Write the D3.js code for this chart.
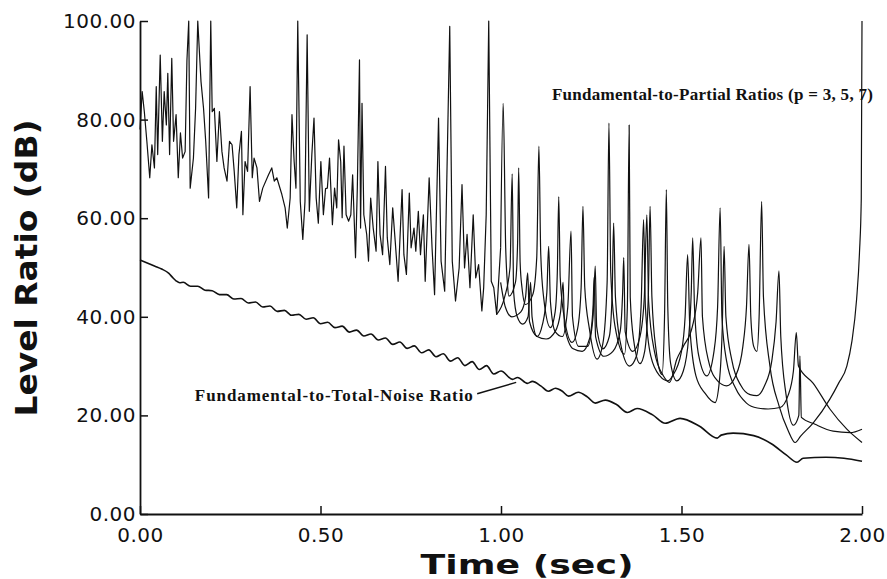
<!DOCTYPE html>
<html><head><meta charset="utf-8">
<script src="https://cdn.jsdelivr.net/npm/d3@7"></script>
<style>
html,body{margin:0;padding:0;background:#fff;}
svg{display:block;}
</style></head><body>
<svg id="chart" width="887" height="579"></svg>
<script>
const xTicks = [0, 0.5, 1.0, 1.5, 2.0];
const yTicks = [0, 20, 40, 60, 80, 100];
const xTitle = "Time (sec)";
const yTitle = "Level Ratio  (dB)";
const partialLabel = "Fundamental-to-Partial Ratios (p = 3, 5, 7)";
const noiseLabel = "Fundamental-to-Total-Noise Ratio";

const noiseRatio = [
[0.000,51.5],[0.020,50.9],[0.040,50.3],[0.060,49.7],[0.080,48.8],[0.090,48.0],[0.100,47.3],[0.110,46.9],
[0.120,47.0],[0.140,46.2],[0.160,46.2],[0.180,45.4],[0.200,45.3],[0.220,44.5],[0.240,44.5],[0.260,43.6],
[0.280,43.7],[0.300,42.8],[0.320,43.0],[0.340,42.0],[0.360,42.2],[0.380,41.1],[0.400,41.3],[0.420,40.3],
[0.440,40.5],[0.460,39.5],[0.480,39.8],[0.500,38.6],[0.520,38.9],[0.540,37.8],[0.560,38.1],[0.580,36.9],
[0.600,37.3],[0.620,36.1],[0.640,36.5],[0.660,35.3],[0.680,35.7],[0.700,34.4],[0.720,34.9],[0.740,33.6],
[0.760,34.1],[0.780,32.7],[0.800,33.3],[0.820,31.9],[0.840,32.5],[0.860,31.0],[0.880,31.7],[0.900,30.1],
[0.920,30.9],[0.940,29.3],[0.960,30.1],[0.980,28.4],[1.000,29.0],[1.032,27.3],[1.046,27.7],[1.073,26.5],
[1.087,26.9],[1.110,26.0],[1.131,24.9],[1.151,25.5],[1.170,24.9],[1.187,23.9],[1.214,24.7],[1.240,23.7],
[1.261,22.5],[1.289,23.1],[1.320,22.2],[1.350,20.6],[1.377,21.4],[1.420,20.1],[1.455,18.4],[1.496,19.4],
[1.550,17.8],[1.599,15.4],[1.610,16.0],[1.643,16.4],[1.700,15.9],[1.750,14.2],[1.790,12.0],[1.820,10.5],
[1.837,11.3],[1.900,11.5],[1.950,11.3],[2.000,10.7]
];

const partialP3 = [
[0.000,78],[0.006,85.7],[0.012,81.6],[0.019,75.6],[0.027,68.2],[0.033,74.9],[0.040,70.2],[0.045,86.7],
[0.049,72.9],[0.056,93.1],[0.062,75.6],[0.067,85.7],[0.073,78.9],[0.077,89.4],[0.082,72.9],[0.088,92.4],
[0.093,75.6],[0.100,81.0],[0.106,68.2],[0.112,77.3],[0.118,72.2],[0.125,73.5],[0.130,92],[0.135,100],
[0.139,66.1],[0.148,72.2],[0.154,82.3],[0.160,100],[0.169,87.7],[0.176,82.3],[0.182,75.6],[0.190,64.1],
[0.196,100],[0.200,81.6],[0.206,82.3],[0.213,71.5],[0.220,81.6],[0.227,73.5],[0.233,70.2],[0.241,67.5],
[0.248,75.6],[0.255,74.9],[0.261,69.5],[0.268,62.1],[0.274,72.9],[0.281,77.6],[0.285,60.7],[0.291,71.5],
[0.298,69.5],[0.305,86.7],[0.311,68.2],[0.316,72.2],[0.324,70.2],[0.331,63.4],[0.340,66.1],[0.356,68.8],
[0.365,70.2],[0.372,67.5],[0.379,68.2],[0.393,64.8],[0.402,62.1],[0.408,58.0],[0.416,64.1],[0.421,81.0],
[0.427,71.5],[0.432,66.1],[0.437,100],[0.444,63.4],[0.451,55.7],[0.457,63.4],[0.463,97.2],[0.469,61.4],
[0.476,72.9],[0.482,80.3],[0.488,64.1],[0.494,59.0],[0.501,71.5],[0.508,60.7],[0.514,66],[0.519,66.1],
[0.525,72.2],[0.533,58.7],[0.539,66.1],[0.545,62.1],[0.550,75.9],[0.556,71.5],[0.560,60.1],[0.565,74.6],
[0.571,60.7],[0.578,59.4],[0.584,60.7],[0.589,68.8],[0.597,52.0],[0.602,66.1],[0.608,92.1],[0.611,58.0],
[0.615,83.3],[0.620,60.7],[0.628,56.7],[0.633,51.3],[0.639,64.1],[0.646,58.0],[0.654,53.3],[0.659,71.5],
[0.665,56.7],[0.672,52.6],[0.680,70.5],[0.685,56.0],[0.692,50.6],[0.700,62.1],[0.707,55.3],[0.715,47.2],
[0.726,65.8],[0.731,52.6],[0.738,48.6],[0.746,65.1],[0.751,54.0],[0.759,58.0],[0.764,53.3],[0.771,61.4],
[0.777,52.6],[0.785,60.7],[0.790,47.2],[0.801,68.2],[0.809,54.0],[0.816,44.5],[0.827,80.3],[0.834,51.3],
[0.844,45.2],[0.858,98.9],[0.865,51.3],[0.874,43.2],[0.884,49.9],[0.892,66.8],[0.899,49.9],[0.906,56.7],
[0.914,45.9],[0.923,60.7],[0.930,47.9],[0.938,50.6],[0.947,41.2],[0.952,45.9],[0.959,60.7],[0.966,100],
[0.973,47.2],[0.980,45.9],[0.988,40.5],[0.999,54.0],[1.006,83.3],[1.013,54.0],[1.018,46.5],[1.022,44.2],
[1.040,47],[1.046,55],[1.049,70.2],[1.053,51],[1.058,46],[1.068,42.5],[1.088,44.5],[1.099,52],
[1.105,74.6],[1.110,53],[1.118,44],[1.137,37.8],[1.150,41],[1.156,49],[1.160,64.4],[1.164,48],
[1.175,40],[1.197,34.8],[1.212,37.5],[1.222,46],[1.227,62.4],[1.232,46],[1.245,37.5],[1.266,31.4],
[1.282,34.5],[1.294,47],[1.299,79.3],[1.304,49],[1.316,38],[1.342,32.4],[1.350,42],[1.355,78.9],
[1.358,44],[1.368,35],[1.385,30.5],[1.398,33],[1.408,44],[1.413,62.4],[1.418,44],[1.430,33],
[1.446,28.3],[1.453,40],[1.458,65.8],[1.462,42],[1.470,30.5],[1.487,27],[1.505,29],[1.520,36],
[1.527,45],[1.531,56],[1.536,42],[1.548,32],[1.570,28],[1.590,33],[1.600,42],[1.607,62.1],
[1.612,40],[1.625,31],[1.650,25.5],[1.680,22.5],[1.710,21.5],[1.740,21.3],[1.773,21.6],[1.795,24],
[1.810,29],[1.818,36.8],[1.824,30],[1.865,26.5],[1.911,21.3],[1.958,17.2],[2.000,14.5]
];

const partialP5 = [
[0.988,40.5],[1.010,44],[1.025,50],[1.031,69],[1.035,45],[1.045,40],[1.060,38.5],[1.075,40],
[1.082,47],[1.086,40],[1.100,36],[1.115,38.5],[1.127,45],[1.132,54.3],[1.137,43],[1.150,37],
[1.170,36],[1.185,42],[1.194,57.4],[1.198,40],[1.215,34],[1.240,34],[1.255,40],[1.261,50.3],
[1.265,38],[1.282,33.5],[1.300,36],[1.308,45],[1.312,59],[1.317,44],[1.330,35],[1.356,30],
[1.375,32],[1.388,42],[1.395,59.7],[1.400,42],[1.415,32],[1.440,28],[1.462,27],[1.475,28],
[1.500,33],[1.510,40],[1.517,52.6],[1.523,38],[1.540,28],[1.565,24.5],[1.593,22.6],[1.605,27],
[1.613,38],[1.618,54.3],[1.623,40],[1.640,31],[1.665,26],[1.690,24.2],[1.709,24],[1.730,26],
[1.750,31],[1.762,39],[1.770,49.3],[1.775,36],[1.790,24],[1.810,18],[1.825,20],[1.828,32.1],
[1.832,19.6],[1.870,18.2],[1.920,16.8],[1.967,16.5],[2.000,17.2]
];

const partialP7 = [
[0.999,47],[1.012,42],[1.030,40],[1.055,41],[1.068,44],[1.074,48.9],[1.079,39],[1.100,36],
[1.125,35.5],[1.150,37],[1.165,41],[1.172,47],[1.176,38],[1.200,33.5],[1.225,33],[1.245,35.5],
[1.255,42],[1.258,48],[1.262,36],[1.285,32],[1.310,33],[1.330,37],[1.337,45],[1.340,52],
[1.344,37],[1.365,33],[1.385,36],[1.397,44],[1.404,60.7],[1.409,43],[1.425,33],[1.450,28],
[1.467,26.7],[1.487,31.4],[1.505,34],[1.530,38],[1.545,45],[1.554,56],[1.558,40],[1.575,31],
[1.600,27],[1.625,26],[1.650,28],[1.670,34],[1.680,42],[1.687,54.7],[1.692,40],[1.700,34],
[1.709,33],[1.715,40],[1.722,63.4],[1.727,44],[1.745,30],[1.770,22],[1.795,17],[1.815,14.5],
[1.830,15.8],[1.865,18.5],[1.911,23.3],[1.935,26.5],[1.958,30],[1.972,35],[1.985,43.5],[1.993,53],
[1.998,64],[2.000,100]
];

// annotation anchors in data units
const noiseLabelAt = [0.922, 23.0];
const noiseLeader = [[0.934, 24.4], [1.042, 26.7]];
const partialLabelAt = [1.141, 84.0];

const svg = d3.select('#chart');
const x = d3.scaleLinear().domain([0, 2]).range([140, 862]);
const y = d3.scaleLinear().domain([0, 100]).range([514, 21]);

const line = d3.line().x(d => x(d[0])).y(d => y(d[1]));
const smooth = d3.line().x(d => x(d[0])).y(d => y(d[1])).curve(d3.curveMonotoneX);

// axes
const xAxis = svg.append('g').attr('transform', `translate(0,${y(0)})`)
  .call(d3.axisBottom(x).tickValues(xTicks).tickFormat(d3.format('.2f'))
    .tickSizeInner(-8).tickSizeOuter(0).tickPadding(14));
const yAxis = svg.append('g').attr('transform', `translate(${x(0)},0)`)
  .call(d3.axisLeft(y).tickValues(yTicks).tickFormat(d3.format('.2f'))
    .tickSizeInner(-8).tickSizeOuter(0).tickPadding(4));

[xAxis, yAxis].forEach(g => {
  g.select('.domain').attr('stroke', '#111').attr('stroke-width', 1.8);
  g.selectAll('.tick line').attr('stroke', '#111').attr('stroke-width', 1.5);
  g.selectAll('.tick text').attr('fill', '#111')
    .style('font-family', '"DejaVu Sans", sans-serif').style('font-size', '20px')
    .style('letter-spacing', '0.5px');
});

// series: the dense early part is drawn with straight segments, the resonance arcs smoothly
const partStyle = p => p.attr('fill', 'none').attr('stroke', '#111')
  .attr('stroke-width', 1.2).attr('stroke-linejoin', 'round');
svg.append('path').datum(partialP3.filter(d => d[0] <= 1.0)).attr('d', line).call(partStyle);
svg.append('path').datum(partialP3.filter(d => d[0] >= 0.999)).attr('d', smooth).call(partStyle);
[partialP5, partialP7].forEach(s => {
  svg.append('path').datum(s).attr('d', smooth).call(partStyle);
});
svg.append('path').datum(noiseRatio).attr('d', smooth)
  .attr('fill', 'none').attr('stroke', '#111').attr('stroke-width', 1.6);

// leader line
svg.append('path').datum(noiseLeader).attr('d', line)
  .attr('fill', 'none').attr('stroke', '#111').attr('stroke-width', 1.5);

// annotations
svg.append('text').attr('x', x(noiseLabelAt[0])).attr('y', y(noiseLabelAt[1]))
  .attr('text-anchor', 'end').attr('textLength', 278).attr('lengthAdjust', 'spacing')
  .style('font-family', '"Liberation Serif", "DejaVu Serif", serif').style('font-weight', 'bold')
  .style('font-size', '17px').attr('fill', '#111').text(noiseLabel);

svg.append('text').attr('x', x(partialLabelAt[0])).attr('y', y(partialLabelAt[1]))
  .attr('text-anchor', 'start').attr('textLength', 321).attr('lengthAdjust', 'spacing')
  .style('font-family', '"Liberation Serif", "DejaVu Serif", serif').style('font-weight', 'bold')
  .style('font-size', '17px').attr('fill', '#111').text(partialLabel);

// axis titles
svg.append('text').attr('x', 527).attr('y', 574).attr('text-anchor', 'middle')
  .attr('textLength', 213).attr('lengthAdjust', 'spacingAndGlyphs')
  .style('font-family', '"DejaVu Sans", sans-serif').style('font-weight', 'bold')
  .style('font-size', '27px').attr('fill', '#111').text(xTitle);

svg.append('text').attr('transform', 'translate(37,268) rotate(-90)').attr('text-anchor', 'middle')
  .attr('textLength', 297).attr('lengthAdjust', 'spacingAndGlyphs')
  .style('font-family', '"DejaVu Sans", sans-serif').style('font-weight', 'bold')
  .style('font-size', '30px').attr('fill', '#111').text(yTitle);
</script>
</body></html>
